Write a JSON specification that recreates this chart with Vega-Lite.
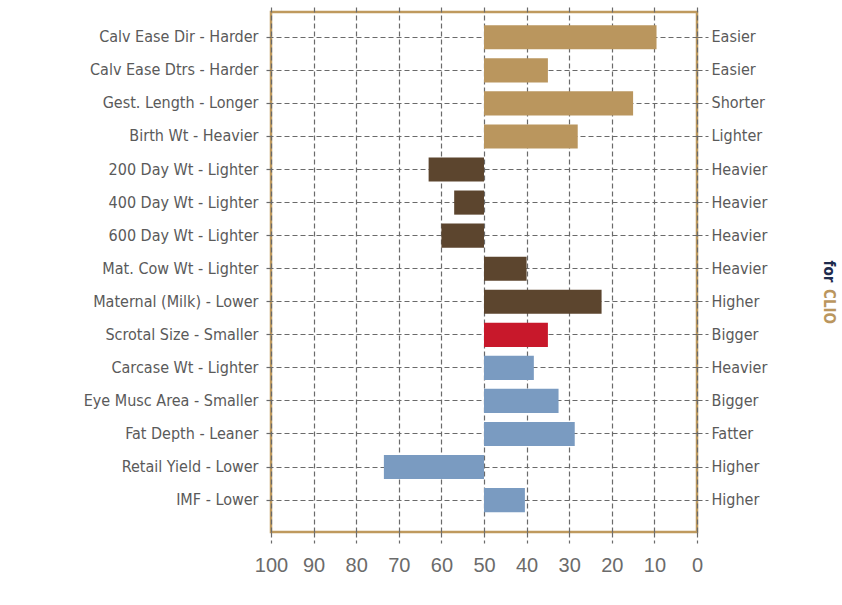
{
  "$schema": "https://vega.github.io/schema/vega-lite/v6.json",
  "width": 426,
  "height": 520,
  "autosize": {"type": "none"},
  "padding": {"left": 271, "top": 12, "right": 145, "bottom": 73},
  "background": "white",
  "config": {
    "view": {"stroke": "#BF9A5E", "strokeWidth": 2.5},
    "font": "DejaVu Sans Condensed",
    "axis": {"domain": false}
  },
  "data": {
    "values": [
      {"left": "Calv Ease Dir - Harder", "right": "Easier", "value": 9.5, "group": "calving"},
      {"left": "Calv Ease Dtrs - Harder", "right": "Easier", "value": 35, "group": "calving"},
      {"left": "Gest. Length - Longer", "right": "Shorter", "value": 15, "group": "calving"},
      {"left": "Birth Wt - Heavier", "right": "Lighter", "value": 28, "group": "calving"},
      {"left": "200 Day Wt - Lighter", "right": "Heavier", "value": 63, "group": "growth"},
      {"left": "400 Day Wt - Lighter", "right": "Heavier", "value": 57, "group": "growth"},
      {"left": "600 Day Wt - Lighter", "right": "Heavier", "value": 60, "group": "growth"},
      {"left": "Mat. Cow Wt - Lighter", "right": "Heavier", "value": 40, "group": "growth"},
      {"left": "Maternal (Milk) - Lower", "right": "Higher", "value": 22.4, "group": "growth"},
      {"left": "Scrotal Size - Smaller", "right": "Bigger", "value": 35, "group": "fertility"},
      {"left": "Carcase Wt - Lighter", "right": "Heavier", "value": 38.3, "group": "carcase"},
      {"left": "Eye Musc Area - Smaller", "right": "Bigger", "value": 32.5, "group": "carcase"},
      {"left": "Fat Depth - Leaner", "right": "Fatter", "value": 28.7, "group": "carcase"},
      {"left": "Retail Yield - Lower", "right": "Higher", "value": 73.5, "group": "carcase"},
      {"left": "IMF - Lower", "right": "Higher", "value": 40.4, "group": "carcase"}
    ]
  },
  "transform": [{"calculate": "datum.left + '|' + datum.right", "as": "key"}],
  "layer": [
    {
      "mark": {"type": "bar"},
      "encoding": {
        "y": {
          "field": "key",
          "type": "nominal",
          "sort": null,
          "scale": {"paddingInner": 0.27, "paddingOuter": 0.5, "align": 0.4},
          "axis": {
            "orient": "left",
            "title": null,
            "labelExpr": "split(datum.label, '|')[0]",
            "labelFont": "DejaVu Sans Condensed",
            "labelFontSize": 16,
            "labelColor": "#5a5a5a",
            "labelPadding": 5,
            "tickSize": 8,
            "tickColor": "#6a6a6a",
            "tickDash": [5, 3],
            "tickWidth": 1.2,
            "grid": true,
            "gridColor": "#6a6a6a",
            "gridDash": [5, 3],
            "gridWidth": 1.2,
            "gridOpacity": 1
          }
        },
        "x": {
          "field": "value",
          "type": "quantitative",
          "scale": {"domain": [0, 100], "reverse": true, "nice": false},
          "axis": {
            "orient": "bottom",
            "title": null,
            "values": [0, 10, 20, 30, 40, 50, 60, 70, 80, 90, 100],
            "labelFont": "Liberation Sans",
            "labelFontSize": 20,
            "labelColor": "#6b6b6b",
            "labelPadding": 12,
            "labelFlush": false,
            "tickSize": 11,
            "tickColor": "#6a6a6a",
            "tickDash": [5, 3],
            "tickWidth": 1.2,
            "grid": true,
            "gridColor": "#6a6a6a",
            "gridDash": [5, 3],
            "gridWidth": 1.2,
            "gridOpacity": 1
          }
        },
        "x2": {"datum": 50},
        "color": {
          "field": "group",
          "type": "nominal",
          "scale": {
            "domain": ["calving", "growth", "fertility", "carcase"],
            "range": ["#BA965E", "#5C452E", "#C8182B", "#7A9BC1"]
          },
          "legend": null
        }
      }
    },
    {
      "mark": {"type": "tick", "opacity": 0},
      "encoding": {
        "y": {
          "field": "key",
          "type": "nominal",
          "sort": null,
          "axis": {
            "orient": "right",
            "title": "for",
            "titleColor": "#1E2B4D",
            "titleFont": "DejaVu Sans Condensed",
            "titleFontWeight": "bold",
            "titleFontSize": 15,
            "titleAngle": 90,
            "titleAlign": "center",
            "titleBaseline": "middle",
            "titleX": 131,
            "titleY": 259,
            "labelExpr": "split(datum.label, '|')[1]",
            "labelFont": "DejaVu Sans Condensed",
            "labelFontSize": 16,
            "labelColor": "#5a5a5a",
            "labelPadding": 3,
            "tickSize": 11,
            "tickColor": "#6a6a6a",
            "tickDash": [5, 3],
            "tickWidth": 1.2,
            "grid": false
          }
        },
        "x": {
          "field": "value",
          "type": "quantitative",
          "axis": {
            "orient": "top",
            "title": "CLIO",
            "titleColor": "#BA965E",
            "titleFont": "DejaVu Sans Condensed",
            "titleFontWeight": "bold",
            "titleFontSize": 15,
            "titleAngle": 90,
            "titleAlign": "center",
            "titleBaseline": "middle",
            "titleX": 557,
            "titleY": 294,
            "values": [0, 10, 20, 30, 40, 50, 60, 70, 80, 90, 100],
            "labels": false,
            "tickSize": 5,
            "tickColor": "#6a6a6a",
            "tickDash": [5, 3],
            "tickWidth": 1.2,
            "grid": false
          }
        }
      }
    }
  ],
  "resolve": {"axis": {"x": "independent", "y": "independent"}}
}
